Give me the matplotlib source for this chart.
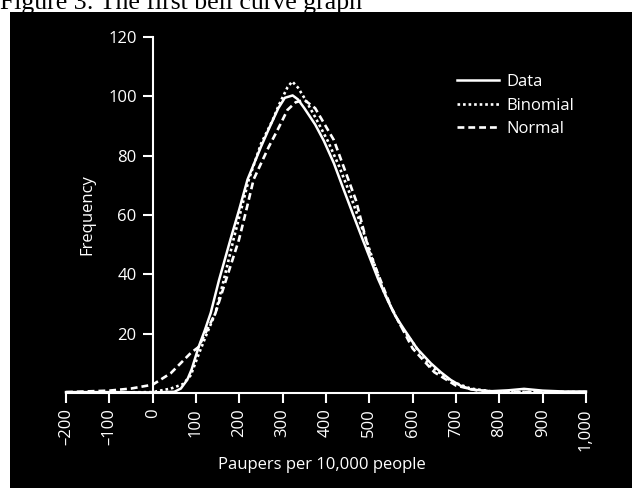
import numpy as np
import matplotlib
matplotlib.use('Agg')
import matplotlib.pyplot as plt
from matplotlib.patches import Rectangle

# values
data_x = [-200, -100, 0, 50, 65, 80, 90, 106, 120, 134, 153, 180, 200, 219, 250, 268, 290, 305, 323,
          335, 350, 375, 395, 418, 441, 463, 485, 520, 543, 560, 580, 610, 642, 665, 688, 710, 734,
          780, 820, 857, 900, 950, 1000]
data_y = [0.3, 0.3, 0.2, 0.4, 1.5, 4.5, 8, 15.5, 21, 27, 38, 52, 62, 72, 83, 89, 96, 99.5, 100.3,
          99, 96, 90.5, 85, 77.5, 68.5, 60, 51.6, 38.5, 31, 26, 21.5, 15, 10, 7, 4.4, 2.5, 1.2,
          0.6, 0.9, 1.4, 0.8, 0.5, 0.5]

binom_x = [-200, -100, 0, 42, 70, 88, 106, 125, 145, 164, 187, 222, 250, 277, 291, 311, 322,
           335, 352, 375, 404, 430, 453, 492, 531, 555, 575, 610, 642, 688, 734, 780, 850, 1000]
binom_y = [0.2, 0.2, 0.3, 1.5, 3, 6, 13, 20, 27, 38, 52, 72, 84, 92, 97, 103, 105,
           103, 99, 93, 85, 76.5, 68, 52, 35, 27.5, 22, 15, 9, 4, 1.5, 0.6, 0.4, 0.3]

norm_x = [-200, -100, -50, 0, 42, 88, 106, 145, 169, 199, 215, 233, 268, 288, 311, 330, 350,
          375, 418, 469, 499, 550, 600, 650, 700, 750, 800, 900, 1000]
norm_y = [0.3, 0.8, 1.5, 2.8, 6.7, 13.5, 15.5, 27, 38, 51.6, 61, 72, 83, 88.6, 95.4, 98, 98.8,
          96, 85.3, 65, 48, 29, 15, 7, 2.5, 0.8, 0.4, 0.3, 0.3]

xticks = [-200, -100, 0, 100, 200, 300, 400, 500, 600, 700, 800, 900, 1000]
xticklabels = ['–200', '–100', '0', '100', '200', '300', '400', '500', '600', '700', '800', '900', '1,000']
yticks = [20, 40, 60, 80, 100, 120]

plt.rcParams['font.family'] = ['Open Sans', 'DejaVu Sans']

fig = plt.figure(figsize=(6.32, 4.88), dpi=100)
fig.patch.set_facecolor('white')

# caption peeking above the black panel
fig.text(0.0, 1 - 9/488, 'Figure 3: The first bell curve graph', family='Liberation Serif',
         fontsize=18.5, color='black', ha='left', va='baseline', zorder=-2)
fig.patches.append(Rectangle((10/632, 0), 622/632, 476/488, transform=fig.transFigure,
                             facecolor='black', edgecolor='none', zorder=-1))

ax = fig.add_axes([66/632, 1 - 393/488, 520/632, 356/488])
ax.set_facecolor('none')
ax.set_zorder(1)

ax.plot(data_x, data_y, color='white', lw=1.8, ls='-', label='Data', clip_on=False)
ax.plot(binom_x, binom_y, color='white', lw=1.9, ls=(0, (1, 1.1)), label='Binomial', clip_on=False)
ax.plot(norm_x, norm_y, color='white', lw=1.9, ls=(0, (2.6, 1.5)), label='Normal', clip_on=False)

ax.set_xlim(-200, 1000)
ax.set_ylim(0, 120)
for s in ['top', 'right']:
    ax.spines[s].set_visible(False)
ax.spines['left'].set_position(('data', 0))
ax.spines['left'].set_bounds(0, 120)
for s in ['left', 'bottom']:
    ax.spines[s].set_color('white')
    ax.spines[s].set_linewidth(1.5)

ax.set_xticks(xticks)
ax.set_xticklabels(xticklabels, rotation=90)
ax.set_yticks(yticks)
ax.tick_params(colors='white', labelcolor='white', direction='out', length=7.5, width=1.5,
               labelsize=12)
ax.tick_params(axis='x', pad=3.5)
ax.tick_params(axis='y', pad=4)

ax.set_xlabel('Paupers per 10,000 people', color='white', fontsize=12)
ax.xaxis.set_label_coords(0.492, -0.18)
ax.set_ylabel('Frequency', color='white', fontsize=12)
ax.yaxis.set_label_coords(0.056, 0.5)

leg = ax.legend(loc='upper left', bbox_to_anchor=(457/632, 1 - 74/488), bbox_transform=fig.transFigure,
                frameon=False, fontsize=12, handlelength=2.5, handletextpad=0.45,
                labelspacing=0.45, borderpad=0, borderaxespad=0)
for t in leg.get_texts():
    t.set_color('white')

fig.savefig('out.png', dpi=100, facecolor='white')
